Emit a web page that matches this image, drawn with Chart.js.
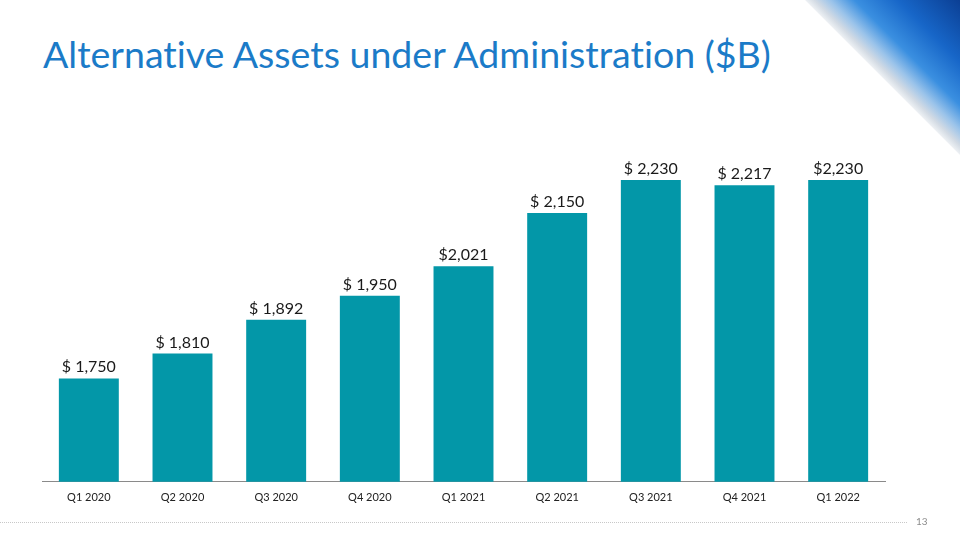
<!DOCTYPE html>
<html>
<head>
<meta charset="utf-8">
<script src="https://cdn.jsdelivr.net/npm/chart.js@4"></script>
<style>
  html, body { margin: 0; padding: 0; background: #fff; }
  body { width: 960px; height: 540px; position: relative; overflow: hidden; font-family: Lato, "Open Sans", sans-serif; }
  h1 { position: absolute; left: 43px; top: 31px; margin: 0; font-weight: 400; font-size: 37.5px; color: #1b7bc8; white-space: nowrap; font-variant-ligatures: none; }
  .deco { position: absolute; left: 805px; top: 0; width: 155px; height: 155px;
    clip-path: polygon(0 0, 100% 0, 100% 100%);
    background: linear-gradient(225deg, #0b3f94 0%, #1766c8 20%, #3a8fe0 34%, #9cc4ea 42%, #d3dbe4 47%, #eef1f4 50%); }
  .rule { position: absolute; left: 0; top: 522px; width: 907px; border-top: 1px dotted #c8c8c8; }
  .page { position: absolute; left: 916px; top: 515px; font-size: 10px; color: #8c8c8c; }
  #wrap { position: absolute; left: 0; top: 100px; width: 960px; height: 420px; }
</style>
</head>
<body>
<h1>Alternative Assets under Administration ($B)</h1>
<div class="deco"></div>
<div id="wrap"><canvas id="aua"></canvas></div>
<div class="rule"></div>
<div class="page">13</div>
<script>
const quarters = ["Q1 2020", "Q2 2020", "Q3 2020", "Q4 2020", "Q1 2021", "Q2 2021", "Q3 2021", "Q4 2021", "Q1 2022"];
const assets = [1750, 1810, 1892, 1950, 2021, 2150, 2230, 2217, 2230];
const valueLabels = ["$ 1,750", "$ 1,810", "$ 1,892", "$ 1,950", "$2,021", "$ 2,150", "$ 2,230", "$ 2,217", "$2,230"];

// draws the value text on top of each bar
const barLabels = {
  id: "barLabels",
  afterDatasetsDraw(chart) {
    const ctx = chart.ctx;
    const meta = chart.getDatasetMeta(0);
    ctx.save();
    ctx.font = "16px Lato, sans-serif";
    ctx.fillStyle = "#1a1a1a";
    ctx.textAlign = "center";
    ctx.textBaseline = "alphabetic";
    meta.data.forEach((bar, i) => {
      ctx.fillText(valueLabels[i], bar.x, bar.y - 6);
    });
    ctx.restore();
  }
};

new Chart(document.getElementById("aua"), {
  type: "bar",
  data: {
    labels: quarters,
    datasets: [{
      label: "AUA",
      data: assets,
      backgroundColor: "#0397a8",
      categoryPercentage: 0.64,
      barPercentage: 1
    }]
  },
  options: {
    responsive: true,
    maintainAspectRatio: false,
    animation: false,
    layout: { padding: { left: 42, right: 75, top: 51, bottom: 7 } },
    plugins: { legend: { display: false }, tooltip: { enabled: false } },
    scales: {
      x: {
        grid: { display: false, drawTicks: false },
        border: { display: true, color: "#8a8a8a", width: 1 },
        ticks: { color: "#222", font: { family: "Lato", size: 11 }, padding: 9 }
      },
      y: { display: false, min: 1500, max: 2300 }
    }
  },
  plugins: [barLabels]
});
</script>
</body>
</html>
